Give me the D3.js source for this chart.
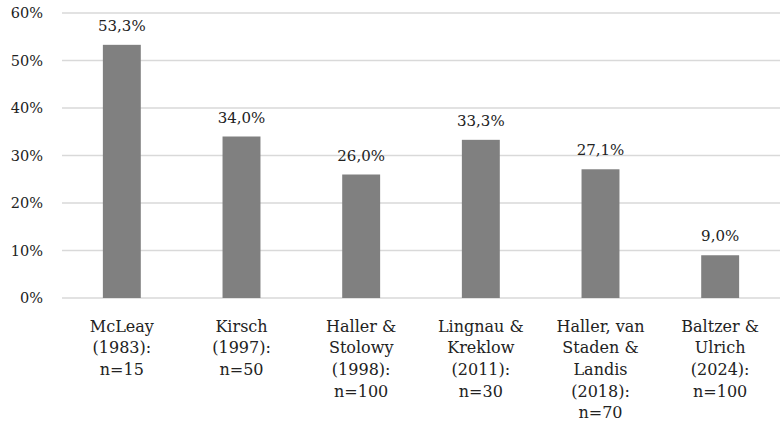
<!DOCTYPE html>
<html>
<head>
<meta charset="utf-8">
<script src="https://cdn.jsdelivr.net/npm/d3@7"></script>
<style>
  body { margin: 0; background: #fff; }
  svg text { font-family: "DejaVu Serif", serif; fill: #222; }
</style>
</head>
<body>
<div id="chart"></div>
<script>
// categories, each label split into lines
var studies = [
    ["McLeay", "(1983):", "n=15"],
    ["Kirsch", "(1997):", "n=50"],
    ["Haller &", "Stolowy", "(1998):", "n=100"],
    ["Lingnau &", "Kreklow", "(2011):", "n=30"],
    ["Haller, van", "Staden &", "Landis", "(2018):", "n=70"],
    ["Baltzer &", "Ulrich", "(2024):", "n=100"]
];
var shares = [53.3, 34.0, 26.0, 33.3, 27.1, 9.0];
var yticks = [0, 10, 20, 30, 40, 50, 60];

window.onload = function() {
    barchart();
};

function barchart() {
    var width = 781;
    var height = 423;
    var padding = {top: 13, bottom: 125, left: 62, right: 1};

    var names = studies.map(function(d, i) { return "c" + i; });

    var xscale = d3.scaleBand()
        .domain(names)
        .range([padding.left, width - padding.right])
        .paddingInner(0.683)
        .paddingOuter(0.3415);

    var yscale = d3.scaleLinear()
        .domain([0, 60])
        .range([height - padding.bottom, padding.top]);

    var svg = d3.select("#chart").append("svg")
        .attr("width", width).attr("height", height);

    // gridlines
    svg.selectAll(".grid").data(yticks).enter().append("line")
        .attr("x1", padding.left)
        .attr("x2", width - padding.right)
        .attr("y1", function(d) { return yscale(d); })
        .attr("y2", function(d) { return yscale(d); })
        .attr("stroke", "#d9d9d9")
        .attr("stroke-width", 1.5);

    // y tick labels
    svg.selectAll(".ylab").data(yticks).enter().append("text")
        .attr("x", 43)
        .attr("y", function(d) { return yscale(d); })
        .attr("dy", "0.35em")
        .attr("text-anchor", "end")
        .style("font-size", "14.5px")
        .text(function(d) { return d + "%"; });

    // bars
    svg.selectAll(".bar").data(shares).enter().append("rect")
        .attr("x", function(d, i) { return xscale(names[i]); })
        .attr("y", function(d) { return yscale(d); })
        .attr("width", xscale.bandwidth())
        .attr("height", function(d) { return yscale(0) - yscale(d); })
        .attr("fill", "#808080");

    // value labels
    svg.selectAll(".val").data(shares).enter().append("text")
        .attr("x", function(d, i) { return xscale(names[i]) + xscale.bandwidth() / 2; })
        .attr("y", function(d) { return yscale(d) - 14; })
        .attr("text-anchor", "middle")
        .style("font-size", "15px")
        .text(function(d) { return d.toFixed(1).replace(".", ",") + "%"; });

    // category labels
    var cats = svg.selectAll(".cat").data(studies).enter().append("text")
        .attr("text-anchor", "middle")
        .style("font-size", "16px")
        .attr("transform", function(d, i) {
            return "translate(" + (xscale(names[i]) + xscale.bandwidth() / 2) + "," + 331.5 + ")";
        });
    cats.selectAll("tspan").data(function(d) { return d; }).enter().append("tspan")
        .attr("x", 0)
        .attr("y", function(d, j) { return j * 21.7; })
        .text(function(d) { return d; });
}
</script>
</body>
</html>
